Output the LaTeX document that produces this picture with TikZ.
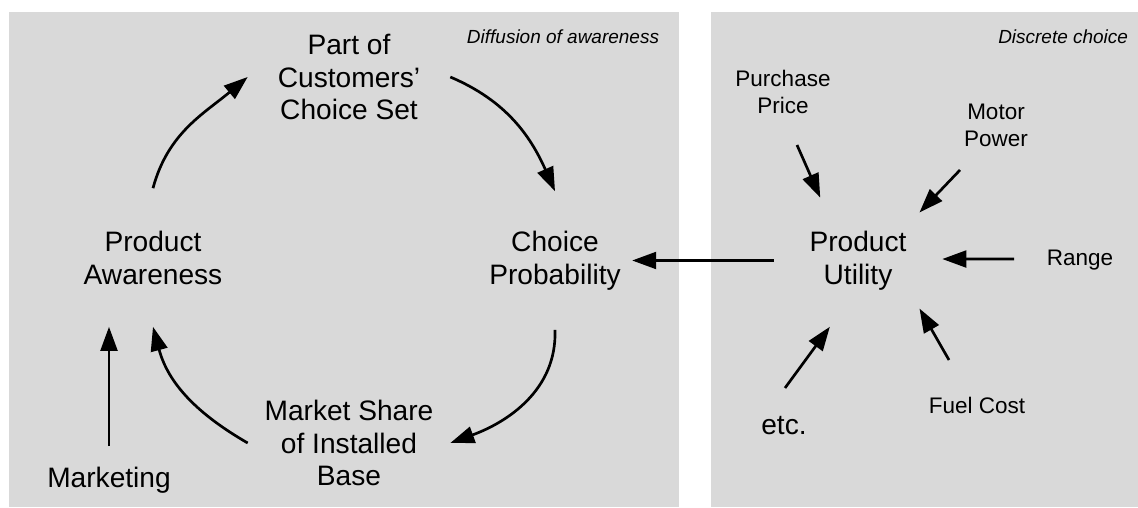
\documentclass[tikz,border=0pt]{standalone}
\usepackage{fontspec}
\setmainfont{Liberation Sans}
\usepackage{tikz}
\usetikzlibrary{arrows.meta, shapes.geometric}
\definecolor{panelgrey}{RGB}{217, 217, 217}

\begin{document}
\begin{tikzpicture}[
        x=0.025cm, y=0.025cm,
        panel/.style={fill=panelgrey},
        stage/.style={font=\fontsize{20}{23.4}\selectfont, align=center},
        hstage/.style={stage, minimum width=5.05cm},
        vstage/.style={stage, minimum height=3.45cm, inner xsep=0.28cm},
        hub/.style={stage, ellipse, minimum width=4.2cm, minimum height=3.5cm, inner sep=0pt},
        factor/.style={font=\fontsize{16}{19.2}\selectfont, align=center},
        heading/.style={font=\fontsize{13.5}{16}\selectfont\itshape, anchor=base east},
        arrow/.style={-{Triangle[length=0.6cm, width=0.42cm]}, line width=1.9pt}
    ]
        \useasboundingbox (0,0) rectangle (1138,507);

        % the two grey panels
        \fill[panel] (9,0) rectangle (679,495);
        \fill[panel] (711,0) rectangle (1138,495);
        \node[heading] (diffusion) at (664,463) {Diffusion of awareness};
        \node[heading] (discrete) at (1133,463) {Discrete choice};

        % awareness loop
        \node[hstage] (partof) at (349,430) {Part of\\Customers'\\Choice Set};
        \node[vstage] (aware) at (153,249.5) {Product\\Awareness};
        \node[vstage] (prob) at (555,246.5) {Choice\\Probability};
        \node[hstage] (share) at (349,64) {Market Share\\of Installed\\Base};
        \node[stage] (mkt) at (109,27) {Marketing};

        \draw[arrow] (aware.north) to[out=75, in=220] (partof.west);
        \draw[arrow] (partof.east) to[out=-23, in=114] (prob.north);
        \draw[arrow] (prob.south) to[out=-88, in=20] (share.east);
        \draw[arrow] (share.west) to[out=150, in=-75] (aware.south);
        \draw[arrow] (mkt) ++(0,34) -- (mkt |- aware.south);

        % utility and its attributes
        \node[hub] (util) at (858,246.5) {Product\\Utility};
        \node[factor] (price) at (783,415) {Purchase\\Price};
        \node[factor] (motor) at (996,381.5) {Motor\\Power};
        \node[factor] (range) at (1080,247) {Range};
        \node[factor] (fuel) at (977,102) {Fuel Cost};
        \node[stage] (etc) at (784,81.5) {etc.};

        \draw[arrow] (util) -- (prob);
        \draw[arrow] (price) ++(14,-53) -- (util.121);
        \draw[arrow] (motor) ++(-36,-44.5) -- (util.38);
        \draw[arrow] (range) ++(-66,1) -- (util.1);
        \draw[arrow] (fuel) ++(-28,45) -- (util.-38);
        \draw[arrow] (etc) ++(1,37.5) -- (util.-113);
    \end{tikzpicture}
\end{document}
